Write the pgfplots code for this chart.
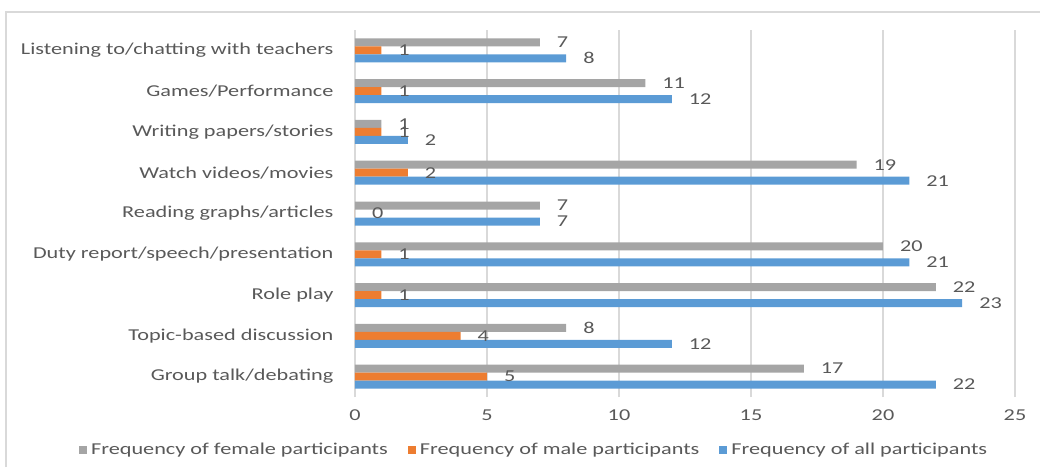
\documentclass[border=0pt]{standalone}
\usepackage{pgfplots}
\pgfplotsset{compat=1.18}
\usepackage{fontspec}
\setmainfont{Carlito}[FakeStretch=1.34]
\definecolor{cgray}{HTML}{A5A5A5}
\definecolor{corange}{HTML}{ED7D31}
\definecolor{cblue}{HTML}{5B9BD5}
\definecolor{cgrid}{HTML}{D9D9D9}
\definecolor{ctext}{HTML}{595959}
\begin{document}
\begin{tikzpicture}[font=\fontsize{8.3}{9.5}\selectfont]
\useasboundingbox (0pt,0pt) rectangle (520pt,233.5pt);
\draw[cgrid,line width=0.8pt] (3pt,0pt) -- (3pt,227.5pt) -- (520pt,227.5pt);
\begin{axis}[
  at={(177.5pt,35pt)}, anchor=south west,
  scale only axis, width=330pt, height=183.5pt,
  xbar, bar width=4pt,
  xmin=0, xmax=25, ymin=-0.5, ymax=8.5,
  xtick={0,5,...,25},
  ytick={0,...,8},
  yticklabels={Group talk/debating,Topic-based discussion,Role play,Duty report/speech/presentation,Reading graphs/articles,Watch videos/movies,Writing papers/stories,Games/Performance,Listening to/chatting with teachers},
  xmajorgrids, grid style={cgrid,line width=0.6pt},
  axis line style={draw=none}, tick style={draw=none},
  tick label style={text=ctext},
  /pgf/number format/assume math mode=true,
  yticklabel style={xshift=-3pt},
  xticklabel style={yshift=-3pt},
  nodes near coords,
  every node near coord/.append style={text=ctext,anchor=west,xshift=5pt},
  legend columns=3,
  legend style={at={(0.273,-0.145)},anchor=center,draw=none,text=ctext,
    /tikz/every even column/.append style={column sep=8pt}},
  legend image code/.code={\fill[#1] (0pt,-2pt) rectangle (4pt,2pt);},
]
\addplot[fill=cgray,draw=none,bar shift=4pt] coordinates {(17,0) (8,1) (22,2) (20,3) (7,4) (19,5) (1,6) (11,7) (7,8)};
\addplot[fill=corange,draw=none,bar shift=0pt] coordinates {(5,0) (4,1) (1,2) (1,3) (0,4) (2,5) (1,6) (1,7) (1,8)};
\addplot[fill=cblue,draw=none,bar shift=-4pt] coordinates {(22,0) (12,1) (23,2) (21,3) (7,4) (21,5) (2,6) (12,7) (8,8)};
\legend{Frequency of female participants,Frequency of male participants,Frequency of all participants}
\end{axis}
\end{tikzpicture}
\end{document}
